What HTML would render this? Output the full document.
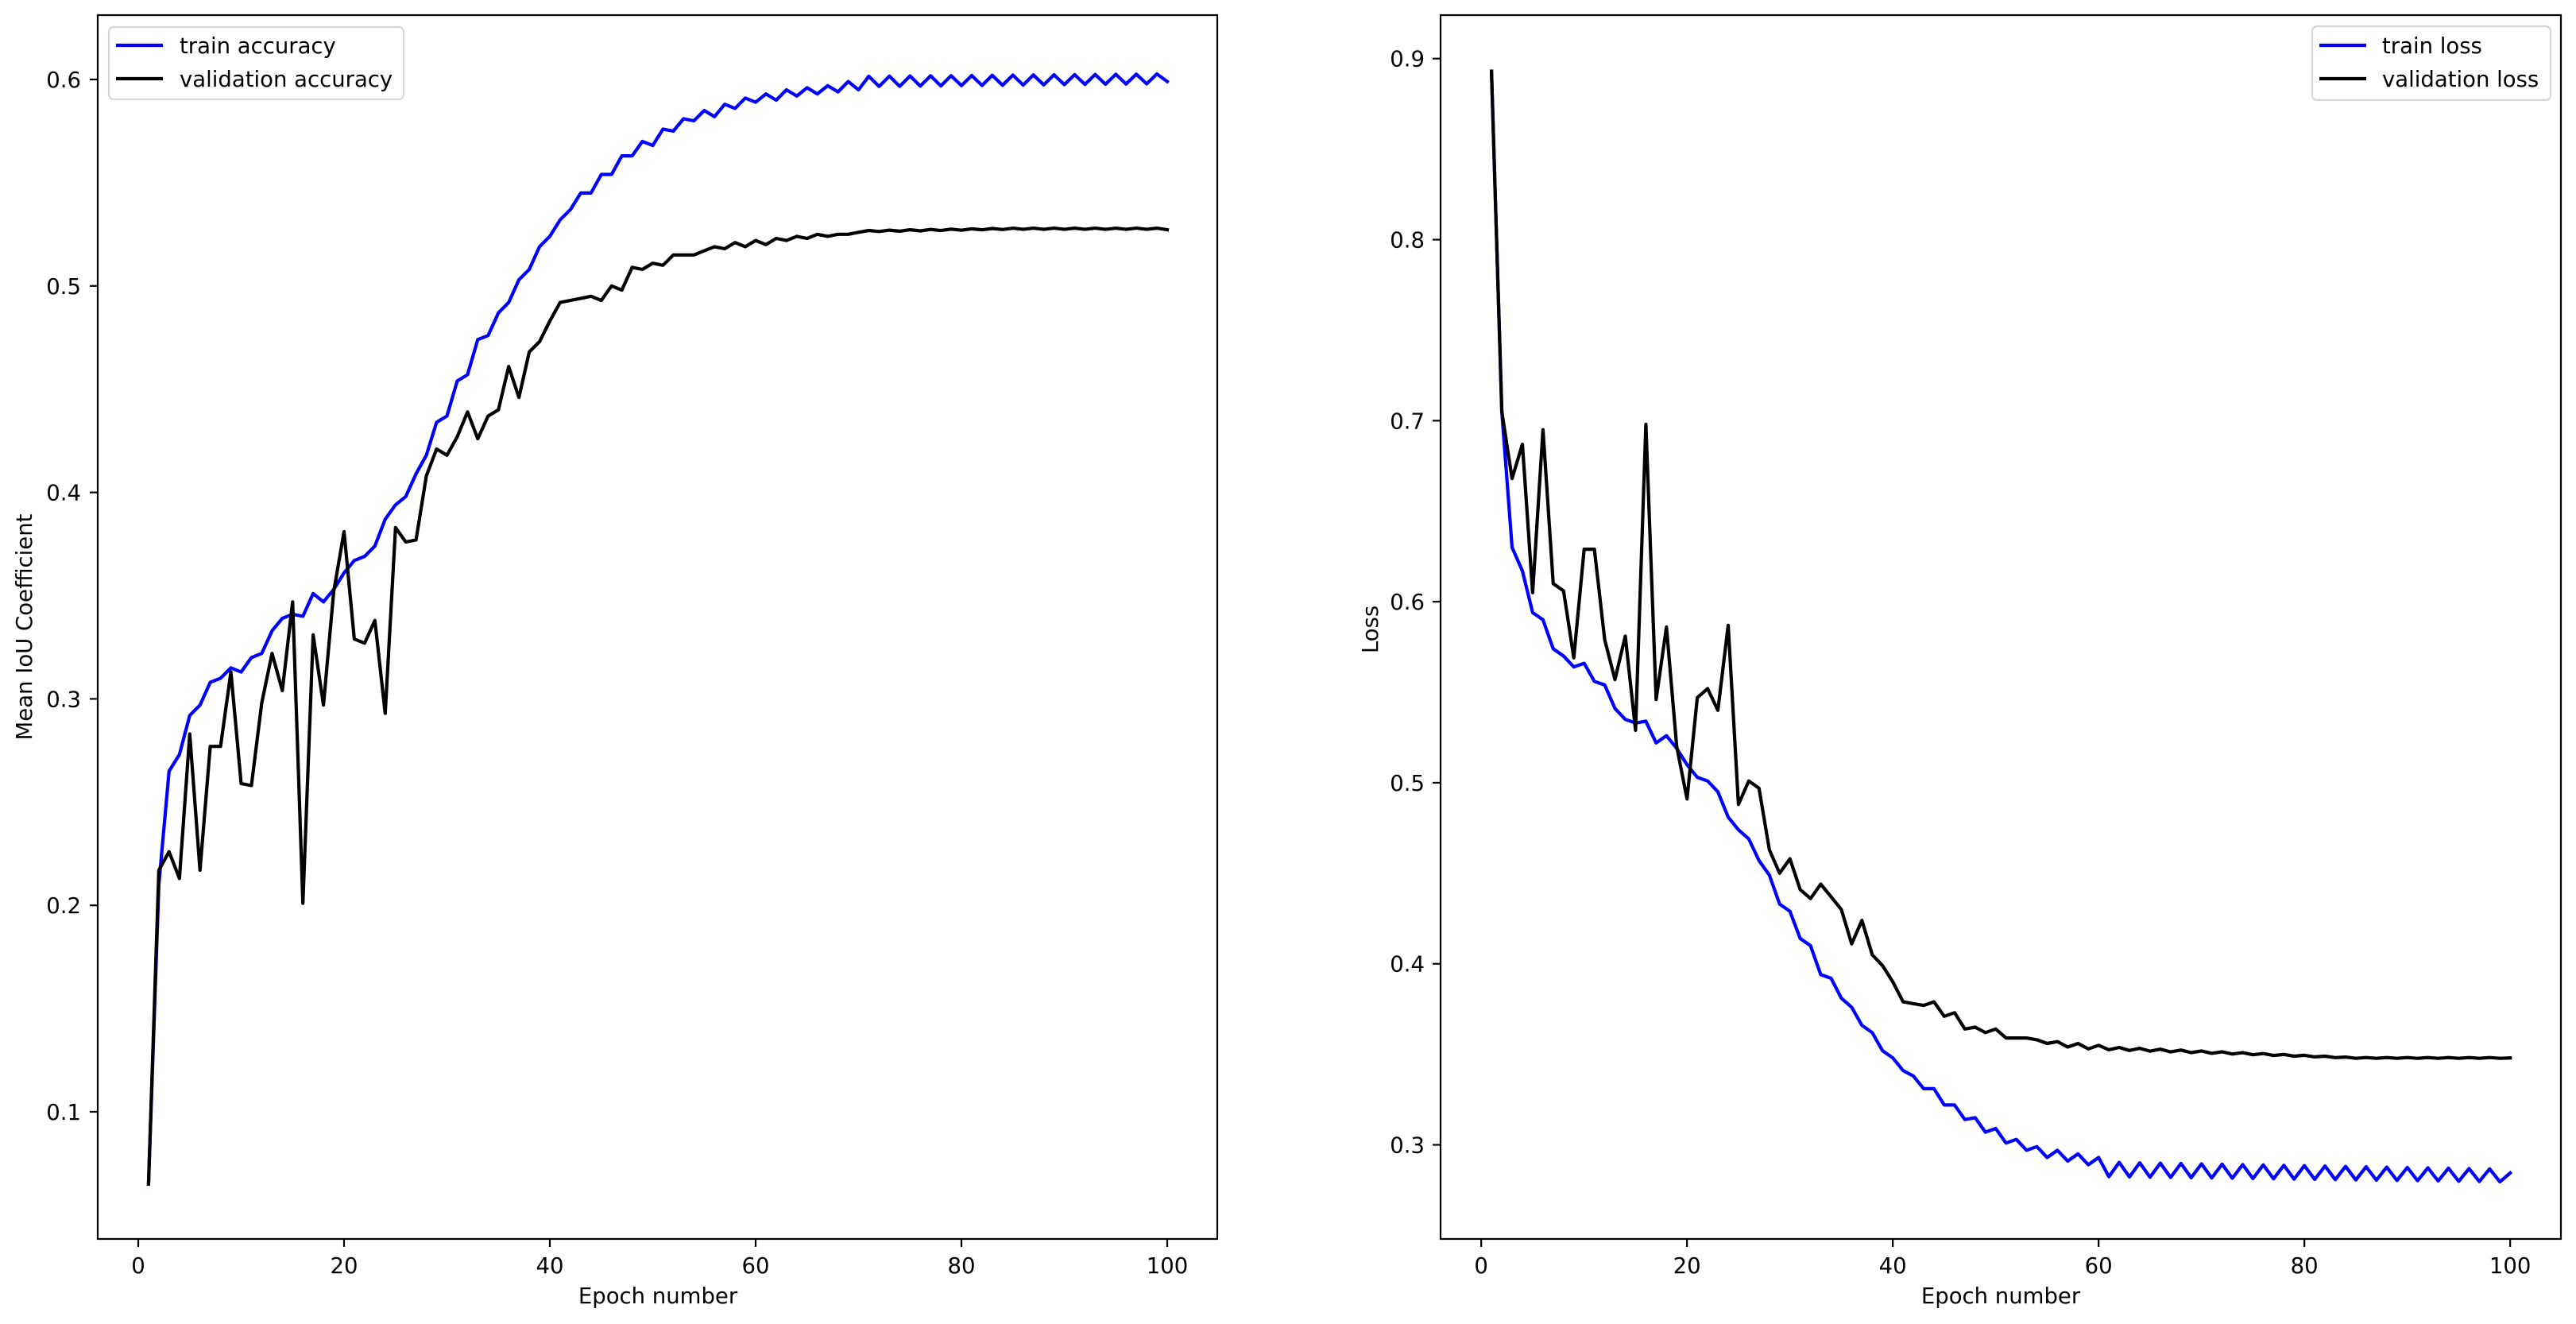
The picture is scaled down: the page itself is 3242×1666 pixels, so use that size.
<!DOCTYPE html>
<html><head><meta charset="utf-8"><style>
html,body{margin:0;padding:0;background:#fff;}
svg{display:block;}
text{font-family:"DejaVu Sans","Liberation Sans",sans-serif;font-size:27.5px;fill:#000;}
</style></head><body>
<svg id="s" width="3242" height="1666" viewBox="0 0 3242 1666" xmlns="http://www.w3.org/2000/svg">
<rect width="3242" height="1666" fill="#fff"/>
<g id="g"></g>
<rect x="123" y="19" width="1409" height="1540" fill="none" stroke="#000" stroke-width="2.2"/>
<rect x="1813" y="19" width="1410" height="1540" fill="none" stroke="#000" stroke-width="2.2"/>
<rect x="137" y="34" width="371" height="91" rx="6" fill="#fff" fill-opacity="0.8" stroke="#d6d6d6" stroke-width="2.2"/>
<line x1="146" y1="57" x2="205" y2="57" stroke="#0000ff" stroke-width="4.2"/>
<line x1="146" y1="99" x2="205" y2="99" stroke="#000" stroke-width="4.2"/>
<text x="226" y="67">train accuracy</text>
<text x="226" y="109">validation accuracy</text>
<rect x="2910" y="33" width="300" height="93" rx="6" fill="#fff" fill-opacity="0.8" stroke="#d6d6d6" stroke-width="2.2"/>
<line x1="2919" y1="57" x2="2978" y2="57" stroke="#0000ff" stroke-width="4.2"/>
<line x1="2919" y1="99" x2="2978" y2="99" stroke="#000" stroke-width="4.2"/>
<text x="2998" y="67">train loss</text>
<text x="2998" y="109">validation loss</text>
<text x="828" y="1640" text-anchor="middle">Epoch number</text>
<text x="2518" y="1640" text-anchor="middle">Epoch number</text>
<text transform="translate(40,789) rotate(-90)" text-anchor="middle">Mean IoU Coefficient</text>
<text transform="translate(1734,792) rotate(-90)" text-anchor="middle">Loss</text>
</svg>
<script>
var NS="http://www.w3.org/2000/svg",g=document.getElementById("g");
function el(t,a,txt){var e=document.createElementNS(NS,t);for(var k in a)e.setAttribute(k,a[k]);if(txt!=null)e.textContent=txt;g.appendChild(e);return e;}
function lx(e){return 174+e*12.95;}
function ly(v){return 100+(0.6-v)*2598;}
function rx(e){return 1813+(e+3.95)*12.95;}
function ry(v){return 1559-(v-0.248)*2278;}
[0,20,40,60,80,100].forEach(function(t){
 var x=lx(t);el("line",{x1:x,y1:1559,x2:x,y2:1569,stroke:"#000","stroke-width":2.2});
 el("text",{x:x,y:1602,"text-anchor":"middle"},String(t));
 x=rx(t);el("line",{x1:x,y1:1559,x2:x,y2:1569,stroke:"#000","stroke-width":2.2});
 el("text",{x:x,y:1602,"text-anchor":"middle"},String(t));
});
[0.1,0.2,0.3,0.4,0.5,0.6].forEach(function(v){var y=ly(v);
 el("line",{x1:113,y1:y,x2:123,y2:y,stroke:"#000","stroke-width":2.2});
 el("text",{x:102,y:y+10,"text-anchor":"end"},v.toFixed(1));});
[0.3,0.4,0.5,0.6,0.7,0.8,0.9].forEach(function(v){var y=ry(v);
 el("line",{x1:1803,y1:y,x2:1813,y2:y,stroke:"#000","stroke-width":2.2});
 el("text",{x:1793,y:y+10,"text-anchor":"end"},v.toFixed(1));});
var ta=[0.065,0.21,0.265,0.273,0.292,0.297,0.308,0.310,0.315,0.313,0.320,0.322,0.333,0.339,0.341,0.340,0.351,0.347,0.353,0.361,0.367,0.369,0.374,0.387,0.394,0.398,0.409,0.418,0.434,0.437,0.454,0.457,0.474,0.476,0.487,0.492,0.503,0.508,0.519,0.524,0.532,0.537,0.545,0.545,0.554,0.554,0.563,0.563,0.570,0.568,0.576,0.575,0.581,0.580,0.585,0.582,0.588,0.586,0.591,0.589,0.593,0.590,0.595,0.592,0.596,0.593,0.597,0.594,0.599,0.595];
for(var i=71;i<=100;i++){ta.push(i%2?0.6015+(i-70)*0.00004:0.5965+(i-70)*0.00005);}
ta[99]=0.599;
var va=[0.065,0.217,0.226,0.213,0.283,0.217,0.277,0.277,0.313,0.259,0.258,0.298,0.322,0.304,0.347,0.201,0.331,0.297,0.352,0.381,0.329,0.327,0.338,0.293,0.383,0.376,0.377,0.408,0.421,0.418,0.427,0.439,0.426,0.437,0.440,0.461,0.446,0.468,0.473,0.483,0.492,0.493,0.494,0.495,0.493,0.500,0.498,0.509,0.508,0.511,0.510,0.515,0.515,0.515,0.517,0.519,0.518,0.521,0.519,0.522,0.520,0.523,0.522,0.524,0.523,0.525,0.524,0.525,0.525,0.526];
for(var i=71;i<=100;i++){va.push(0.5265+Math.min(1,(i-70)/15)*0.0012+(i%2?0.0003:-0.0003));}
va[99]=0.5272;
var tl=[0.893,0.705,0.630,0.617,0.594,0.590,0.574,0.570,0.564,0.566,0.556,0.554,0.541,0.535,0.533,0.534,0.522,0.526,0.519,0.510,0.503,0.501,0.495,0.481,0.474,0.469,0.457,0.449,0.433,0.429,0.414,0.410,0.394,0.392,0.381,0.376,0.366,0.362,0.352,0.348,0.341,0.338,0.331,0.331,0.322,0.322,0.314,0.315,0.307,0.309,0.301,0.303,0.297,0.299,0.293,0.297,0.291,0.295,0.289,0.293];
for(var i=61;i<=100;i++){var f=(i-60)/40;tl.push(i%2?0.2825-f*0.003:0.2905-f*0.004);}
tl[99]=0.2845;
var vl=[0.893,0.705,0.668,0.687,0.605,0.695,0.610,0.606,0.569,0.629,0.629,0.579,0.557,0.581,0.529,0.698,0.546,0.586,0.520,0.491,0.547,0.552,0.540,0.587,0.488,0.501,0.497,0.463,0.450,0.458,0.441,0.436,0.444,0.437,0.430,0.411,0.424,0.405,0.399,0.390,0.379,0.378,0.377,0.379,0.371,0.373,0.364,0.365,0.362,0.364,0.359,0.359,0.359,0.358,0.356,0.357,0.354,0.356,0.353,0.355];
for(var i=61;i<=100;i++){var f=Math.min(1,(i-60)/25);vl.push(0.3535-f*0.0055+(i%2?-0.0008:0.0008)*(1-f*0.7));}
vl[99]=0.348;
function poly(d,fx,fy,c){var p=d.map(function(v,i){return fx(i+1).toFixed(1)+","+fy(v).toFixed(1);}).join(" ");
 el("polyline",{points:p,fill:"none",stroke:c,"stroke-width":4.2,"stroke-linejoin":"round","stroke-linecap":"square"});}
poly(ta,lx,ly,"#0000ff");poly(va,lx,ly,"#000");
poly(tl,rx,ry,"#0000ff");poly(vl,rx,ry,"#000");
</script>
</body></html>
